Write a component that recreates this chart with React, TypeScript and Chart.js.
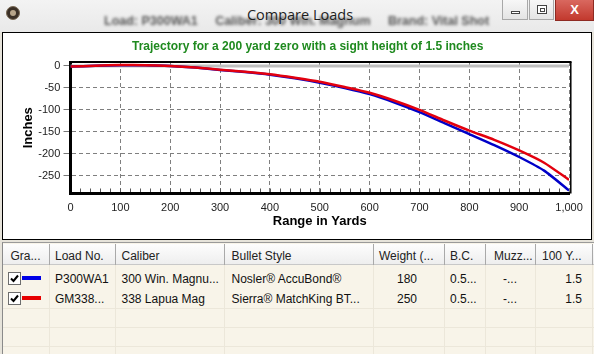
import React, { useEffect, useRef } from "react";
import { Chart, registerables } from "chart.js";

Chart.register(...registerables);

// ---- data ----
const rangeYards = [0, 50, 100, 150, 200, 250, 300, 350, 400, 450, 500, 550, 600, 650, 700, 750, 800, 850, 900, 950, 1000];
const p300wa1Path = [-1.5, 0.6, 1.8, 1.6, 0, -3.7, -9, -14, -20, -28, -38, -50, -64, -83, -105, -130, -155, -180, -207, -238, -283];
const gm338Path = [-1.5, 0.6, 1.9, 1.8, 0, -3.4, -8.5, -13, -19, -27, -36, -48, -61, -79, -100, -124, -147, -168, -192, -220, -259];
const sightRange = [0, 1000];
const sightLine = [0, 0];
const xTickValues = [0, 100, 200, 300, 400, 500, 600, 700, 800, 900, 1000];
const yTickValues = [0, -50, -100, -150, -200, -250];
const chartTitle = "Trajectory for a 200 yard zero with a sight height of 1.5 inches";

const tableHeaders = ["Gra...", "Load No.", "Caliber", "Bullet Style", "Weight (...", "B.C.", "Muzz...", "100 Y..."];
const loadNumbers = ["P300WA1", "GM338..."];
const calibers = ["300 Win. Magnu...", "338 Lapua Mag"];
const bulletStyles = ["Nosler® AccuBond®", "Sierra® MatchKing BT..."];
const weights = ["180", "250"];
const ballisticCoefs = ["0.5...", "0.5..."];
const muzzles = ["-...", "-..."];
const hundredYards = ["1.5", "1.5"];
const loadColors = ["#0000e6", "#e60000"];

const FONT = 'Arial, "Liberation Sans", sans-serif';

const toPoints = (xs: number[], ys: number[]) => xs.map((x, i) => ({ x, y: ys[i] }));

const framePlugin = {
  id: "frame",
  afterDatasetsDraw(chart: any) {
    const { ctx, chartArea: a, scales } = chart;
    const x = scales.x;
    ctx.save();
    ctx.strokeStyle = "#000";
    ctx.lineWidth = 2;
    ctx.beginPath();
    ctx.moveTo(a.left, a.top);
    ctx.lineTo(a.right + 2.5, a.top);
    ctx.stroke();
    ctx.lineWidth = 1.5;
    ctx.beginPath();
    ctx.moveTo(a.right + 1.75, a.top);
    ctx.lineTo(a.right + 1.75, a.bottom);
    ctx.stroke();
    ctx.strokeStyle = "#555";
    ctx.lineWidth = 1;
    for (let v = 20; v < 1000; v += 20) {
      const px = Math.round(x.getPixelForValue(v)) + 0.5;
      ctx.beginPath();
      ctx.moveTo(px, a.bottom - 1.5);
      ctx.lineTo(px, a.bottom - 5);
      ctx.stroke();
    }
    ctx.restore();
  },
};

const abs = (s: React.CSSProperties): React.CSSProperties => ({ position: "absolute", ...s });

function CheckBox({ top }: { top: number }) {
  return (
    <div style={abs({ left: 8, top, width: 11, height: 11, border: "1px solid #6d6d6d", background: "#fff" })}>
      <svg width="11" height="11" style={{ position: "absolute", left: 0, top: 0 }}>
        <path d="M2 5.5 L4.5 8 L9 2.5" stroke="#000" strokeWidth="2" fill="none" />
      </svg>
    </div>
  );
}

export default function App() {
  const canvasRef = useRef<HTMLCanvasElement>(null);

  useEffect(() => {
    const canvas = canvasRef.current!;
    const chart = new Chart(canvas, {
      type: "line",
      data: {
        datasets: [
          {
            label: "GM338...",
            data: toPoints(rangeYards, gm338Path),
            borderColor: "#e3000e",
            borderWidth: 2.5,
            pointRadius: 0,
            tension: 0.2,
          },
          {
            label: "P300WA1",
            data: toPoints(rangeYards, p300wa1Path),
            borderColor: "#0000c8",
            borderWidth: 2.5,
            pointRadius: 0,
            tension: 0.2,
          },
          {
            label: "Line of sight",
            data: toPoints(sightRange, sightLine),
            borderColor: "#c0c0c0",
            borderWidth: 3,
            pointRadius: 0,
          },
        ],
      },
      options: {
        animation: false,
        responsive: false,
        devicePixelRatio: 1,
        locale: "en-US",
        layout: { autoPadding: false, padding: { left: 0, right: 12.5, top: 29, bottom: 0 } },
        plugins: {
          legend: { display: false },
          tooltip: { enabled: false },
          title: { display: false },
        },
        scales: {
          x: {
            type: "linear",
            min: 0,
            max: 1000,
            afterBuildTicks: (s: any) => {
              s.ticks = xTickValues.map((value) => ({ value }));
            },
            afterFit: (s: any) => {
              s.height = 45.5;
            },
            ticks: { color: "#222", font: { family: FONT, size: 11 }, padding: 8.2, maxRotation: 0, autoSkip: false },
            grid: { color: "#7f7f7f", lineWidth: 1, drawTicks: false },
            border: { display: true, color: "#000", width: 3, dash: [4, 3] },
            title: {
              display: true,
              text: "Range in Yards",
              color: "#000",
              font: { family: FONT, size: 13, weight: "bold" },
              padding: { top: 0, bottom: 10 },
            },
          },
          y: {
            type: "linear",
            min: -290,
            max: 9,
            afterBuildTicks: (s: any) => {
              s.ticks = yTickValues.map((value) => ({ value }));
            },
            afterFit: (s: any) => {
              s.width = 67.5;
            },
            ticks: { color: "#222", font: { family: FONT, size: 11 }, padding: 3.2 },
            grid: { color: "#7f7f7f", lineWidth: 1, drawTicks: true, tickLength: 7, tickColor: "#777" },
            border: { display: true, color: "#000", width: 3, dash: [4, 3] },
            title: {
              display: true,
              text: "Inches",
              color: "#000",
              font: { family: FONT, size: 13, weight: "bold" },
              padding: { top: 17.5, bottom: 0 },
            },
          },
        },
      },
      plugins: [framePlugin],
    } as any);
    return () => chart.destroy();
  }, []);

  const colLefts = [10.5, 55, 121.5, 231.5, 379, 450, 494, 542];
  const seps = [49, 115, 224, 372.5, 444, 485, 535, 592];
  const rowCenters = [278.5, 298.5];
  const txt: React.CSSProperties = { fontFamily: FONT, fontSize: 12, color: "#111", whiteSpace: "nowrap", lineHeight: "16px" };

  return (
    <div style={{ position: "relative", width: 594, height: 354, overflow: "hidden", background: "#e6e3da", fontFamily: FONT }}>
      <style>{`body{margin:0}`}</style>

      {/* title bar */}
      <div style={abs({ left: 0, top: 0, width: 594, height: 32, background: "linear-gradient(#f3f3f3, #e9e9e9)" })} />
      <div
        style={abs({
          left: 104,
          top: 14,
          fontFamily: FONT,
          fontSize: 12.5,
          fontWeight: "bold",
          color: "#555",
          filter: "blur(1.4px)",
          whiteSpace: "pre",
        })}
      >
        {"Load: P300WA1     Caliber: 300 Win. Magnum     Brand: Vital Shot"}
      </div>
      <div style={abs({ left: 6, top: 6, width: 12, height: 12, borderRadius: 7, background: "#3b3026", border: "1px solid #7a6a55" })}>
        <div style={abs({ left: 3, top: 3, width: 6, height: 6, borderRadius: 3, background: "#b8a58a" })} />
      </div>
      <div style={abs({ left: 0, top: 5, width: 600, textAlign: "center", fontFamily: '"Open Sans", "Noto Sans", sans-serif', fontSize: 14.5, color: "#1e1e1e", lineHeight: "20px" })}>
        Compare Loads
      </div>
      {/* window buttons */}
      <div style={abs({ left: 502, top: 0, width: 26, height: 20, background: "linear-gradient(#f7f7f7,#e4e4e4)", border: "1px solid #a8a8a8", borderTop: "none", boxSizing: "border-box" })}>
        <div style={abs({ left: 8, top: 11, width: 9, height: 3, background: "#fff", border: "1px solid #444", boxSizing: "border-box" })} />
      </div>
      <div style={abs({ left: 529, top: 0, width: 25, height: 20, background: "linear-gradient(#f7f7f7,#e4e4e4)", border: "1px solid #a8a8a8", borderTop: "none", boxSizing: "border-box" })}>
        <div style={abs({ left: 7, top: 5, width: 10, height: 9, border: "1px solid #444", boxSizing: "border-box", background: "#fff" })}>
          <div style={abs({ left: 1.5, top: 1.5, width: 5, height: 4, border: "1px solid #444", boxSizing: "border-box" })} />
        </div>
      </div>
      <div style={abs({ left: 555, top: 0, width: 39, height: 21, background: "linear-gradient(#d9685f,#c2392e)", border: "1px solid #8e2a22", borderTop: "none", boxSizing: "border-box", color: "#fff", fontWeight: "bold", fontSize: 13, textAlign: "center", lineHeight: "19px", fontFamily: FONT })}>
        X
      </div>

      {/* chart panel */}
      <div style={abs({ left: 2, top: 32, width: 590, height: 208, border: "1px solid #000", boxSizing: "border-box", background: "#fff" })} />
      <canvas ref={canvasRef} width={588} height={206} style={abs({ left: 3, top: 33, width: 588, height: 206 })} />
      <div style={abs({ left: 132, top: 39, fontFamily: FONT, fontSize: 12, fontWeight: "bold", color: "#1f8a1f", whiteSpace: "nowrap", lineHeight: "14px" })}>
        {chartTitle}
      </div>

      {/* table */}
      <div style={abs({ left: 2, top: 242, width: 592, height: 112, background: "#f8f4e9", borderLeft: "1px solid #8a8a8a", borderTop: "1px solid #9a9a9a", boxSizing: "border-box" })} />
      <div style={abs({ left: 3, top: 244, width: 591, height: 21, background: "linear-gradient(#fdfdfd,#eeeeee)", borderBottom: "1px solid #c8c8c8", boxSizing: "border-box" })} />
      {seps.map((x, i) => (
        <div key={"s" + i} style={abs({ left: x, top: 244, width: 1, height: 21, background: "#a9a9a9" })} />
      ))}
      {seps.map((x, i) => (
        <div key={"c" + i} style={abs({ left: x, top: 265, width: 1, height: 89, background: "#ece7da" })} />
      ))}
      {[308, 327, 346].map((y, i) => (
        <div key={"r" + i} style={abs({ left: 3, top: y, width: 591, height: 1, background: "#ece7da" })} />
      ))}
      {tableHeaders.map((h, i) => (
        <div key={"h" + i} style={abs({ ...txt, left: colLefts[i], top: 248, color: "#222" })}>
          {h}
        </div>
      ))}
      {rowCenters.map((cy, r) => (
        <React.Fragment key={"row" + r}>
          <CheckBox top={cy - 6.5} />
          <div style={abs({ left: 22, top: cy - 2.5, width: 19, height: 4, background: loadColors[r] })} />
          <div style={abs({ ...txt, left: 55, top: cy - 8 })}>{loadNumbers[r]}</div>
          <div style={abs({ ...txt, left: 121.5, top: cy - 8 })}>{calibers[r]}</div>
          <div style={abs({ ...txt, left: 231.5, top: cy - 8 })}>{bulletStyles[r]}</div>
          <div style={abs({ ...txt, left: 372, width: 70, textAlign: "center", top: cy - 8 })}>{weights[r]}</div>
          <div style={abs({ ...txt, left: 450, top: cy - 8 })}>{ballisticCoefs[r]}</div>
          <div style={abs({ ...txt, left: 485, width: 50, textAlign: "center", top: cy - 8 })}>{muzzles[r]}</div>
          <div style={abs({ ...txt, left: 535, width: 47, textAlign: "right", top: cy - 8 })}>{hundredYards[r]}</div>
        </React.Fragment>
      ))}
    </div>
  );
}
